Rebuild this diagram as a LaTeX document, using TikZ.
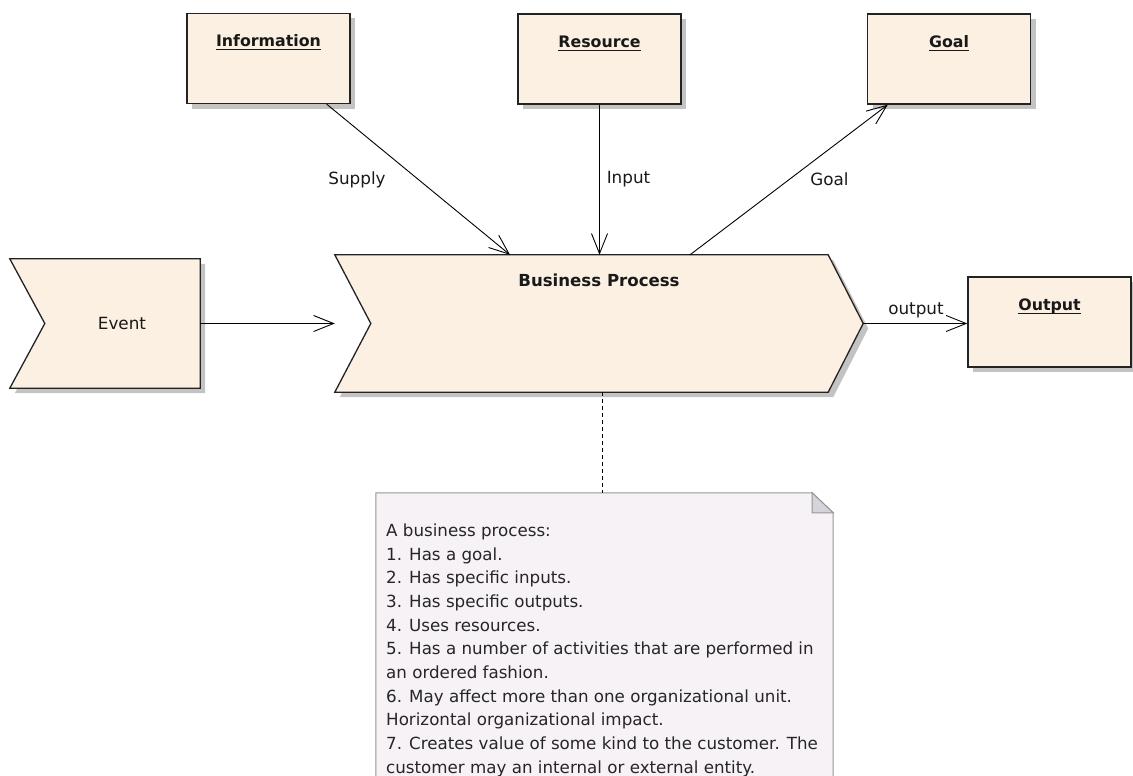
\documentclass[tikz,border=0pt]{standalone}
\usepackage{fontspec}
\setmainfont{DejaVu Sans}
\usetikzlibrary{arrows.meta,calc}
\definecolor{boxfill}{RGB}{251,240,225}
\definecolor{boxline}{RGB}{35,35,35}
\definecolor{shadowc}{RGB}{195,195,195}
\definecolor{notefill}{RGB}{246,242,246}
\definecolor{noteline}{RGB}{150,150,150}
\definecolor{foldfill}{RGB}{214,212,218}
\newcommand\ulin[1]{\setbox0\hbox{#1}\rlap{\rule[-3.6pt]{\wd0}{1.1pt}}\box0}
\begin{document}
\begin{tikzpicture}[x=1pt,y=-1pt,
  myshadow/.style={preaction={fill=shadowc, draw=none, transform canvas={xshift=5pt,yshift=-5pt}}},
  box/.style={draw=boxline, line width=1.3pt, fill=boxfill, minimum width=163pt, minimum height=90pt, inner sep=0pt, myshadow},
  chev/.style={draw=boxline, line width=1.3pt, fill=boxfill, myshadow},
  frame/.style={draw=none, inner sep=0pt},
  title/.style={anchor=base, inner sep=0pt, font=\fontsize{15.8}{19}\selectfont\bfseries, text=black!90},
  lbl/.style={inner sep=0pt, font=\fontsize{16.8}{20}\selectfont, text=black!90},
  conn/.style={draw=black, line width=0.9pt, -{Straight Barb[length=20pt,width=16pt]}},
  plain/.style={draw=black, line width=0.9pt},
  notebox/.style={draw=noteline, line width=1pt, fill=notefill},
]
\useasboundingbox (0,0) rectangle (1133,776);
\clip (0,0) rectangle (1133,776);

% rectangles
\node[box] (info) at (268.5,58.5) {};
\node[box] (res) at (599.5,59) {};
\node[box] (goal) at (949,59) {};
\node[box] (out) at (1049.5,322) {};

\node[title] (infot) at ([yshift=-34pt]info.north) {\ulin{Information}};
\node[title] (rest) at ([yshift=-34pt]res.north) {\ulin{Resource}};
\node[title] (goalt) at ([yshift=-34pt]goal.north) {\ulin{Goal}};
\node[title] (outt) at ([yshift=-34pt]out.north) {\ulin{Output}};

% event chevron
\node[frame, minimum width=190pt, minimum height=129pt] (event) at (105,323.5) {};
\draw[chev] (event.north west) -- (event.north east) -- (event.south east) -- (event.south west) -- ([xshift=35pt]event.west) -- cycle;
\node[lbl] (eventt) at ([xshift=17pt]event.center) {Event};

% business process chevron
\node[frame, minimum width=528pt, minimum height=137pt] (bp) at (599,323.5) {};
\draw[chev] (bp.north west) -- ([xshift=-35pt]bp.north east) -- (bp.east) -- ([xshift=-35pt]bp.south east) -- (bp.south west) -- ([xshift=36pt]bp.west) -- cycle;
\node[title, font=\fontsize{16.6}{20}\selectfont\bfseries] (bpt) at ([yshift=-32pt]bp.north) {Business Process};

% note
\node[frame, minimum width=457pt, minimum height=307pt] (note) at (604.5,646.5) {};
\draw[notebox] (note.north west) -- ([xshift=-21pt]note.north east) -- ([yshift=-20pt]note.north east) -- (note.south east) -- (note.south west) -- cycle;
\filldraw[draw=noteline, line width=1pt, fill=foldfill] ([xshift=-21pt]note.north east) -- ([xshift=-21pt,yshift=-20pt]note.north east) -- ([yshift=-20pt]note.north east) -- cycle;
\node[anchor=north west, inner sep=0pt, align=left, text=black!85,
      font=\fontsize{16.7}{23.7}\selectfont] (notetext) at (386,523.5)
{A business process:\\
1. Has a goal.\\
2. Has specific inputs.\\
3. Has specific outputs.\\
4. Uses resources.\\
5. Has a number of activities that are performed in\\
an ordered fashion.\\
6. May affect more than one organizational unit.\\
Horizontal organizational impact.\\
7. Creates value of some kind to the customer. The\\
customer may an internal or external entity.};

% connectors
\draw[conn] ([xshift=-24pt]info.south east) -- ([xshift=-89pt]bp.north);
\draw[conn] (res.south) -- (res.south |- bp.north);
\draw[conn] ([xshift=91pt]bp.north) -- ([xshift=21pt]goal.south west);
\draw[conn] (event.east) -- (event.east -| bp.west);
\draw[conn] (bp.east) -- (bp.east -| out.west);
\draw[plain, dash pattern=on 4pt off 3pt] ([xshift=3pt]bp.south) -- ([xshift=3pt]bp.south |- note.north);

% connector labels
\node[lbl] (supplyl) at (357,180) {Supply};
\node[lbl] (inputl) at (628.5,179) {Input};
\node[lbl] (goall) at (829.5,179) {Goal};
\node[lbl] (outputl) at (916,310) {output};
\end{tikzpicture}
\end{document}
